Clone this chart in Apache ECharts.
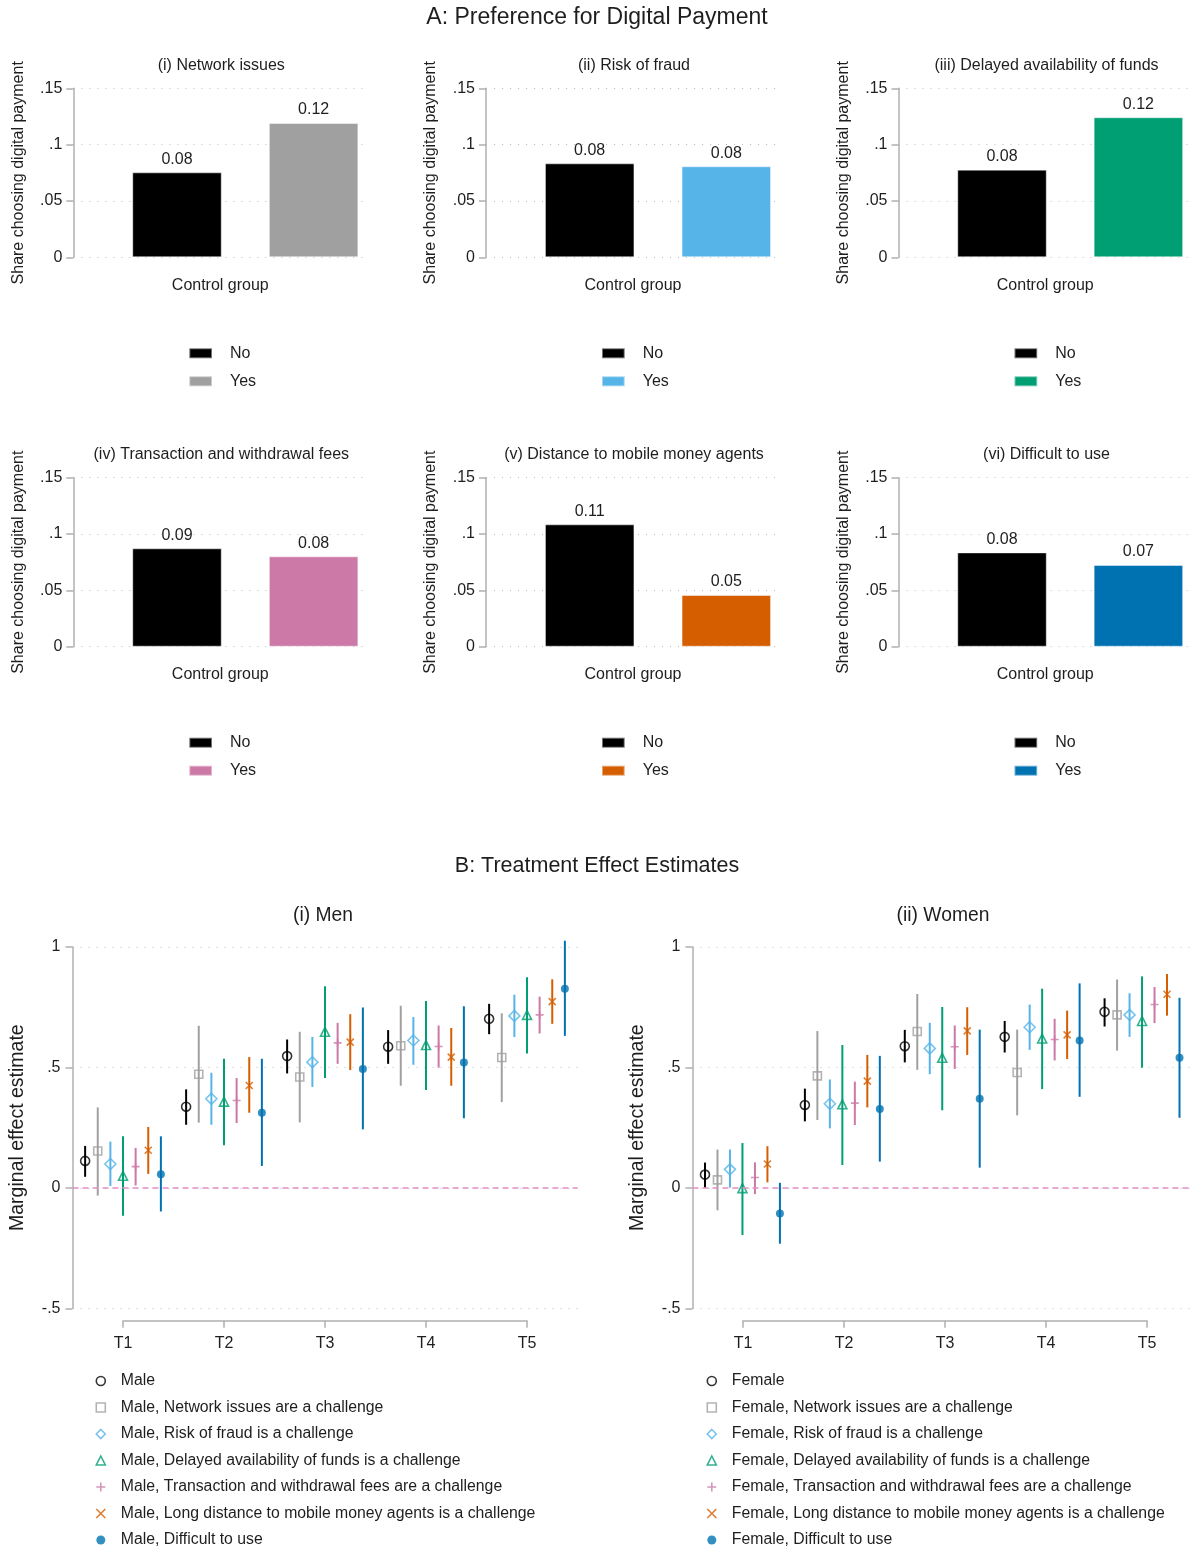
<!DOCTYPE html>
<html><head><meta charset="utf-8">
<script src="https://cdn.jsdelivr.net/npm/echarts@6/dist/echarts.min.js"></script>
<style>html,body{margin:0;padding:0;background:#fff}#c{width:1192px;height:1549px}</style>
</head><body><div id="c"></div><script>
const FONT = '"Liberation Sans", Arial, Helvetica, sans-serif';
const TXT = '#1e1e1e';

// ---------- Panel A data ----------
const mainTitleA = 'A: Preference for Digital Payment';
const panelTitlesA = ['(i) Network issues', '(ii) Risk of fraud', '(iii) Delayed availability of funds',
  '(iv) Transaction and withdrawal fees', '(v) Distance to mobile money agents', '(vi) Difficult to use'];
const barCategories = ['No', 'Yes'];
const shareNo  = [0.0754, 0.0834, 0.0778, 0.0873, 0.1086, 0.0837];
const shareYes = [0.1192, 0.0808, 0.1243, 0.0802, 0.0459, 0.0725];
const yesColors = ['#a0a0a0', '#56b4e9', '#009e73', '#cc79a7', '#d55e00', '#0072b2'];

// ---------- Panel B data ----------
const mainTitleB = 'B: Treatment Effect Estimates';
const treatments = ['T1', 'T2', 'T3', 'T4', 'T5'];
const menGroups = ['Male', 'Male, Network issues are a challenge', 'Male, Risk of fraud is a challenge',
  'Male, Delayed availability of funds is a challenge', 'Male, Transaction and withdrawal fees are a challenge',
  'Male, Long distance to mobile money agents is a challenge', 'Male, Difficult to use'];
const womenGroups = ['Female', 'Female, Network issues are a challenge', 'Female, Risk of fraud is a challenge',
  'Female, Delayed availability of funds is a challenge', 'Female, Transaction and withdrawal fees are a challenge',
  'Female, Long distance to mobile money agents is a challenge', 'Female, Difficult to use'];

const menEst = [
  [0.112, 0.337, 0.547, 0.586, 0.702],
  [0.153, 0.472, 0.460, 0.590, 0.541],
  [0.099, 0.370, 0.522, 0.612, 0.714],
  [0.050, 0.358, 0.648, 0.593, 0.718],
  [0.088, 0.363, 0.602, 0.587, 0.718],
  [0.156, 0.425, 0.605, 0.543, 0.773],
  [0.057, 0.312, 0.494, 0.521, 0.827]];
const menLo = [
  [0.046, 0.262, 0.475, 0.515, 0.638],
  [-0.032, 0.271, 0.272, 0.424, 0.356],
  [0.008, 0.262, 0.419, 0.511, 0.626],
  [-0.116, 0.177, 0.456, 0.406, 0.558],
  [0.010, 0.269, 0.515, 0.499, 0.641],
  [0.058, 0.312, 0.489, 0.424, 0.681],
  [-0.098, 0.091, 0.243, 0.289, 0.631]];
const menHi = [
  [0.174, 0.409, 0.616, 0.655, 0.764],
  [0.334, 0.673, 0.648, 0.756, 0.725],
  [0.192, 0.478, 0.627, 0.709, 0.802],
  [0.214, 0.536, 0.837, 0.776, 0.874],
  [0.166, 0.456, 0.685, 0.674, 0.794],
  [0.253, 0.543, 0.721, 0.664, 0.866],
  [0.214, 0.536, 0.749, 0.754, 1.026]];

const womenEst = [
  [0.055, 0.344, 0.588, 0.627, 0.731],
  [0.033, 0.465, 0.649, 0.479, 0.718],
  [0.077, 0.349, 0.579, 0.667, 0.718],
  [-0.001, 0.347, 0.540, 0.620, 0.693],
  [0.043, 0.352, 0.586, 0.616, 0.761],
  [0.099, 0.443, 0.652, 0.635, 0.804],
  [-0.106, 0.327, 0.370, 0.612, 0.540]];
const womenLo = [
  [0.001, 0.276, 0.521, 0.562, 0.670],
  [-0.093, 0.282, 0.490, 0.301, 0.570],
  [0.001, 0.247, 0.472, 0.573, 0.627],
  [-0.196, 0.095, 0.322, 0.410, 0.499],
  [-0.026, 0.261, 0.494, 0.529, 0.684],
  [0.023, 0.334, 0.552, 0.535, 0.715],
  [-0.232, 0.109, 0.084, 0.378, 0.291]];
const womenHi = [
  [0.105, 0.412, 0.656, 0.693, 0.787],
  [0.159, 0.651, 0.805, 0.657, 0.865],
  [0.159, 0.450, 0.685, 0.761, 0.808],
  [0.186, 0.593, 0.751, 0.827, 0.878],
  [0.106, 0.441, 0.674, 0.702, 0.834],
  [0.173, 0.552, 0.750, 0.736, 0.888],
  [0.021, 0.548, 0.657, 0.849, 0.789]];

// ---------- styles ----------
const groupColors = ['#000000', '#a0a0a0', '#56b4e9', '#009e73', '#cc79a7', '#d55e00', '#0072b2'];
const PLUS = 'path://M0,5L10,5M5,0L5,10';
const CROSS = 'path://M0,0L10,10M10,0L0,10';
const groupSymbols = ['circle', 'rect', 'diamond', 'triangle', PLUS, CROSS, 'circle'];
const groupHollow = [true, true, true, true, true, true, false];
const groupSizes = [9, 8, 11, 9, 8, 7, 8];
const groupStep = 0.125;

const AXIS_COLOR = '#b0b0b0';
const GRID_LINE = { show: true, lineStyle: { color: '#bdbdbd', width: 1, type: [1, 7] } };
function fmtTick(v) {
  const r = Math.round(v * 1000) / 1000;
  return String(r).replace(/^(-?)0\./, '$1.');
}

const grids = [], xAxes = [], yAxes = [], series = [], titles = [], legends = [];

titles.push({ text: mainTitleA, left: 597, top: 6.5, textAlign: 'center', padding: 0,
  textStyle: { fontFamily: FONT, fontSize: 23, fontWeight: 'normal', color: TXT } });

// Panel A layout
const colLeft = [73.3, 486, 898.5];
const rowTop = [88.3, 477.7];
const plotW = 294, plotH = 169;
for (let i = 0; i < 6; i++) {
  const r = Math.floor(i / 3), c = i % 3;
  const L = colLeft[c], T = rowTop[r];
  const gi = grids.length;
  grids.push({ left: L, top: T, width: plotW, height: plotH });
  titles.push({ text: panelTitlesA[i], left: L + plotW / 2 + 1, top: T - 31, textAlign: 'center', padding: 0,
    textStyle: { fontFamily: FONT, fontSize: 16, fontWeight: 'normal', color: TXT } });
  xAxes.push({ type: 'value', gridIndex: gi, min: 0.241, max: 2.393,
    axisLine: { show: false }, axisTick: { show: false }, axisLabel: { show: false }, splitLine: { show: false },
    name: 'Control group', nameLocation: 'middle', nameGap: 20,
    nameTextStyle: { fontFamily: FONT, fontSize: 16, color: TXT } });
  yAxes.push({ type: 'value', gridIndex: gi, min: 0, max: 0.15, interval: 0.05,
    axisLine: { show: true, lineStyle: { color: AXIS_COLOR, width: 1.5 } },
    axisTick: { show: true, length: 7, lineStyle: { color: AXIS_COLOR, width: 1.5 } },
    axisLabel: { formatter: fmtTick, margin: 11, fontFamily: FONT, fontSize: 16, color: TXT },
    splitLine: GRID_LINE,
    name: 'Share choosing digital payment', nameLocation: 'middle', nameGap: 47,
    nameTextStyle: { fontFamily: FONT, fontSize: 16, color: TXT } });
  const vals = [shareNo[i], shareYes[i]];
  const cols = ['#000000', yesColors[i]];
  barCategories.forEach((cat, k) => {
    series.push({ type: 'bar', name: cat + '|' + i, xAxisIndex: gi, yAxisIndex: gi,
      data: [[k + 1, vals[k]]], barWidth: 89.5, barGap: '-100%',
      itemStyle: { color: cols[k], borderColor: 'rgba(255,255,255,0.45)', borderWidth: 1 },
      label: { show: true, position: 'top', distance: 5, formatter: p => p.value[1].toFixed(2),
        fontFamily: FONT, fontSize: 16, color: TXT },
      silent: true });
  });
  legends.push({ left: L + 115, top: T + 256, orient: 'vertical', padding: 0, icon: 'rect',
    itemWidth: 22.7, itemHeight: 10, itemGap: 10, selectedMode: false,
    data: barCategories.map(cat => cat + '|' + i),
    formatter: n => n.split('|')[0],
    textStyle: { fontFamily: FONT, fontSize: 16, color: TXT, lineHeight: 18, padding: [0, 0, 0, 13] } });
}

// Panel B
titles.push({ text: mainTitleB, left: 597, top: 855, textAlign: 'center', padding: 0,
  textStyle: { fontFamily: FONT, fontSize: 21.5, fontWeight: 'normal', color: TXT } });
const bPanels = [
  { title: '(i) Men', left: 72.5, legendLeft: 95.5, groups: menGroups, est: menEst, lo: menLo, hi: menHi },
  { title: '(ii) Women', left: 692.5, legendLeft: 706.5, groups: womenGroups, est: womenEst, lo: womenLo, hi: womenHi }];
const bTop = 947, bH = 361.3, bandW = 101, bW = bandW * 5;
bPanels.forEach((P, j) => {
  const gi = grids.length;           // data grid
  grids.push({ left: P.left, top: bTop, width: bW, height: bH });
  titles.push({ text: P.title, left: P.left + bW / 2 - 2, top: 906, textAlign: 'center', padding: 0,
    textStyle: { fontFamily: FONT, fontSize: 19.3, fontWeight: 'normal', color: TXT } });
  xAxes.push({ type: 'value', gridIndex: gi, min: 0.5, max: 5.5, show: false });
  yAxes.push({ type: 'value', gridIndex: gi, min: -0.5, max: 1, interval: 0.5,
    axisLine: { show: true, lineStyle: { color: AXIS_COLOR, width: 1.5 } },
    axisTick: { show: true, length: 7, lineStyle: { color: AXIS_COLOR, width: 1.5 } },
    axisLabel: { formatter: fmtTick, margin: 12, fontFamily: FONT, fontSize: 16, color: TXT },
    splitLine: GRID_LINE,
    name: 'Marginal effect estimate', nameLocation: 'middle', nameGap: 45,
    nameTextStyle: { fontFamily: FONT, fontSize: 19.5, color: TXT } });
  P.groups.forEach((g, k) => {
    const color = groupColors[k];
    const xs = treatments.map((t, ti) => ti + 1 + (k - 3) * groupStep);
    series.push({ type: 'custom', name: g + ' CI', xAxisIndex: gi, yAxisIndex: gi, z: 2, silent: true,
      data: xs.map((x, ti) => [x, P.lo[k][ti], P.hi[k][ti]]),
      encode: { x: 0, y: [1, 2] },
      renderItem: (params, api) => {
        const a = api.coord([api.value(0), api.value(1)]);
        const b = api.coord([api.value(0), api.value(2)]);
        return { type: 'line', shape: { x1: a[0], y1: a[1], x2: b[0], y2: b[1] },
          style: { stroke: color, lineWidth: 2 } };
      } });
    const s = { type: 'scatter', name: g, xAxisIndex: gi, yAxisIndex: gi, z: 3, silent: true,
      data: xs.map((x, ti) => [x, P.est[k][ti]]),
      symbol: groupSymbols[k], symbolSize: groupSizes[k],
      itemStyle: groupHollow[k] ? { color: 'transparent', borderColor: color, borderWidth: 1.6 } : { color: color } };
    if (k === 0) {
      s.markLine = { silent: true, symbol: 'none', label: { show: false },
        lineStyle: { color: '#e48fc6', width: 1.5, type: [6, 4] }, data: [{ yAxis: 0 }] };
    }
    series.push(s);
  });
  // axis-only grid for treatment ticks (spans T1..T5)
  const ai = grids.length;
  grids.push({ left: P.left + bandW / 2, top: 1300, width: bW - bandW, height: 20.7 });
  xAxes.push({ type: 'category', gridIndex: ai, data: treatments, boundaryGap: false,
    axisLine: { show: true, lineStyle: { color: AXIS_COLOR, width: 1.5 } },
    axisTick: { show: true, length: 7, lineStyle: { color: AXIS_COLOR, width: 1.5 } },
    axisLabel: { margin: 15, fontFamily: FONT, fontSize: 16, color: TXT }, splitLine: { show: false } });
  yAxes.push({ type: 'value', gridIndex: ai, show: false });
  legends.push({ left: P.legendLeft, top: 1372, orient: 'vertical', padding: 0,
    itemWidth: 9, itemHeight: 9, itemGap: 8.5, selectedMode: false,
    itemStyle: { borderWidth: 1.6 },
    data: P.groups,
    textStyle: { fontFamily: FONT, fontSize: 15.8, color: TXT, lineHeight: 18, padding: [0, 0, 0, 10.5] } });
});

const chart = echarts.init(document.getElementById('c'), null, { width: 1192, height: 1549 });
chart.setOption({
  backgroundColor: '#ffffff',
  animation: false,
  textStyle: { fontFamily: FONT },
  title: titles, grid: grids, xAxis: xAxes, yAxis: yAxes, legend: legends, series: series
});
</script></body></html>
